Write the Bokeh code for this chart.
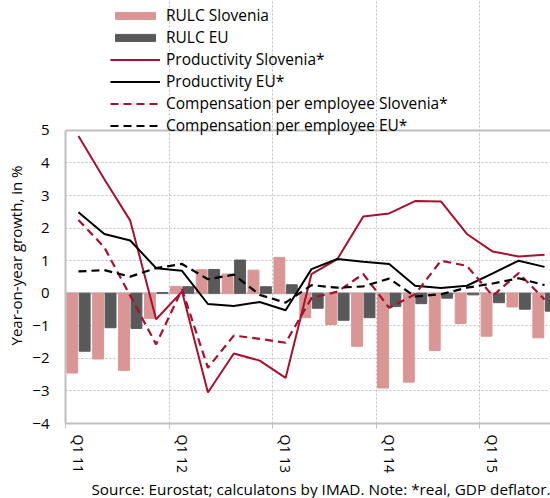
import numpy as np
from bokeh.plotting import figure
from bokeh.models import Range1d, FixedTicker, Legend, LegendItem, Span, Title
from bokeh.embed import file_html
from bokeh.resources import INLINE

quarters = ["Q1 11", "Q2 11", "Q3 11", "Q4 11",
            "Q1 12", "Q2 12", "Q3 12", "Q4 12",
            "Q1 13", "Q2 13", "Q3 13", "Q4 13",
            "Q1 14", "Q2 14", "Q3 14", "Q4 14",
            "Q1 15", "Q2 15", "Q3 15"]

rulc_si = [-2.45, -2.02, -2.37, -0.77, 0.21, 0.72, 0.59, 0.71, 1.10, -0.75,
           -0.96, -1.63, -2.91, -2.73, -1.76, -0.93, -1.32, -0.42, -1.37]
rulc_eu = [-1.78, -1.06, -1.08, 0.02, 0.20, 0.73, 1.02, 0.20, 0.26, -0.46,
           -0.83, -0.75, -0.41, -0.32, -0.15, -0.05, -0.29, -0.49, -0.55]
prod_si = [4.83, 3.50, 2.23, -0.80, 0.05, -3.05, -1.85, -2.07, -2.60, 0.59,
           1.05, 2.36, 2.45, 2.83, 2.82, 1.82, 1.28, 1.13, 1.18]
prod_eu = [2.49, 1.82, 1.62, 0.77, 0.69, -0.33, -0.39, -0.27, -0.52, 0.74,
           1.05, 0.97, 0.90, 0.23, 0.16, 0.23, 0.61, 1.00, 0.81]
comp_si = [2.25, 1.41, -0.08, -1.57, 0.12, -2.29, -1.30, -1.40, -1.52, -0.15,
           0.05, 0.59, -0.45, -0.03, 1.00, 0.84, -0.08, 0.62, -0.19]
comp_eu = [0.67, 0.71, 0.51, 0.77, 0.90, 0.43, 0.57, -0.05, -0.29, 0.25,
           0.17, 0.21, 0.45, -0.10, -0.03, 0.17, 0.30, 0.46, 0.25]

y_ticks = [-4, -3, -2, -1, 0, 1, 2, 3, 4, 5]
footnote = "Source: Eurostat; calculatons by IMAD. Note: *real, GDP deflator."
y_label = "Year-on-year growth, in %"

PINK = "#DA9694"
DARK = "#595959"
RED = "#A8102E"
GRAY = "#BFBFBF"
FONT = "Open Sans"

n = len(quarters)
x = np.arange(n) + 0.5
y_lo, y_hi = y_ticks[0], y_ticks[-1]

p = figure(width=550, height=498, output_backend="svg", toolbar_location=None,
           x_range=Range1d(0, 18.73), y_range=Range1d(y_lo, 8.99),
           min_border_left=65, min_border_right=0, min_border_top=0,
           min_border_bottom=75)
p.outline_line_color = None
p.background_fill_color = "white"
p.border_fill_color = "white"

# grid
p.xgrid.ticker = FixedTicker(ticks=[i for i, q in enumerate(quarters) if q.startswith("Q1") and i > 0])
p.xgrid.bounds = (y_lo, y_hi)
p.ygrid.ticker = FixedTicker(ticks=[t for t in y_ticks if t not in (0, y_lo, y_hi)])
for g in (p.xgrid, p.ygrid):
    g.grid_line_color = GRAY
    g.grid_line_dash = "2 2"
    g.grid_line_width = 1

p.add_layout(Span(location=0, dimension="width", line_color=GRAY, line_width=2, level="underlay"))
p.add_layout(Span(location=y_hi, dimension="width", line_color=GRAY, line_width=2))

r1 = p.vbar(x=x - 0.24, top=rulc_si, width=0.42, fill_color=PINK, line_color=PINK)
r2 = p.vbar(x=x + 0.24, top=rulc_eu, width=0.42, fill_color=DARK, line_color=DARK)
r3 = p.line(x, prod_si, line_color=RED, line_width=2)
r4 = p.line(x, prod_eu, line_color="black", line_width=2)
r5 = p.line(x, comp_si, line_color=RED, line_width=2.2, line_dash="8 5")
r6 = p.line(x, comp_eu, line_color="black", line_width=2.2, line_dash="8 5")

# x axis
q1_pos = [float(x[i]) for i, q in enumerate(quarters) if q.startswith("Q1")]
q1_lab = [q for q in quarters if q.startswith("Q1")]
year_starts = [i for i, q in enumerate(quarters) if q.startswith("Q1")]
p.xaxis.ticker = FixedTicker(ticks=q1_pos, minor_ticks=year_starts)
p.xaxis.major_label_overrides = {pos: lab for pos, lab in zip(q1_pos, q1_lab)}
p.xaxis.major_label_orientation = "vertical"
p.xaxis.major_tick_line_color = None
p.xaxis.major_tick_out = 0
p.xaxis.major_tick_in = 0
p.xaxis.minor_tick_line_color = GRAY
p.xaxis.minor_tick_in = 0
p.xaxis.minor_tick_out = 5
p.xaxis.axis_line_color = GRAY
p.xaxis.axis_line_width = 2
p.xaxis.major_label_standoff = 6
p.xaxis.major_label_text_font = FONT
p.xaxis.major_label_text_font_size = "14px"
p.xaxis.major_label_text_color = "black"

# y axis
p.yaxis.ticker = FixedTicker(ticks=y_ticks)
p.yaxis.bounds = (y_lo, y_hi)
p.yaxis.major_tick_line_color = None
p.yaxis.major_tick_out = 0
p.yaxis.major_tick_in = 0
p.yaxis.minor_tick_line_color = None
p.yaxis.minor_tick_out = 0
p.yaxis.axis_line_color = GRAY
p.yaxis.axis_line_width = 2
p.yaxis.major_label_standoff = 16
p.yaxis.major_label_text_font = FONT
p.yaxis.major_label_text_font_size = "15px"
p.yaxis.major_label_text_color = "black"

p.add_layout(Title(text=y_label, align="left", offset=78, text_font=FONT,
                   text_font_size="15px", text_font_style="normal",
                   text_color="black", standoff=7), "left")

legend = Legend(items=[
    LegendItem(label="RULC Slovenia", renderers=[r1]),
    LegendItem(label="RULC EU", renderers=[r2]),
    LegendItem(label="Productivity Slovenia*", renderers=[r3]),
    LegendItem(label="Productivity EU*", renderers=[r4]),
    LegendItem(label="Compensation per employee Slovenia*", renderers=[r5]),
    LegendItem(label="Compensation per employee EU*", renderers=[r6]),
], location=(45, 287), orientation="vertical", border_line_color=None,
   background_fill_alpha=0, padding=0, margin=0, spacing=0,
   glyph_width=50, glyph_height=9, label_height=21, label_standoff=6,
   label_text_font=FONT, label_text_font_size="15.5px", label_text_color="black")
p.add_layout(legend, "center")

p.add_layout(Title(text=footnote, align="right", text_font=FONT, text_font_size="15.3px",
                   text_font_style="normal", text_color="black", standoff=0), "below")

open("out.html", "w").write(file_html(p, INLINE))
